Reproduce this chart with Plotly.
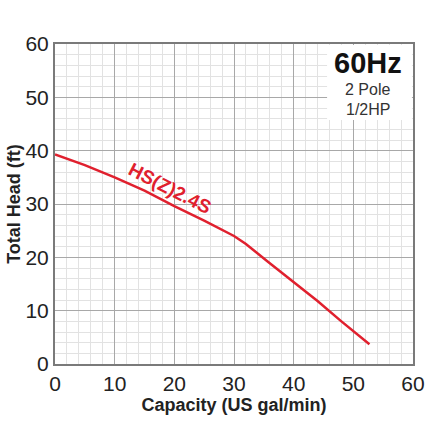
import plotly.graph_objects as go

capacity = [0, 5, 10, 15, 20, 25, 30, 32, 36, 40, 44, 48, 52.7]
head = [39.3, 37.3, 35.0, 32.5, 29.6, 26.9, 24.0, 22.5, 18.9, 15.3, 11.8, 8.0, 3.7]
x_ticks = [0, 10, 20, 30, 40, 50, 60]
y_ticks = [0, 10, 20, 30, 40, 50, 60]
curve_label = "HS(Z)2.4S"
freq_label = "60Hz"
pole_label = "2 Pole"
hp_label = "1/2HP"

RED = "#e0202e"
FONT = "Liberation Sans, Arial, sans-serif"

fig = go.Figure()
fig.add_trace(go.Scatter(x=capacity, y=head, mode="lines",
                         line=dict(color=RED, width=2.5), showlegend=False,
                         hoverinfo="skip"))

axis_common = dict(
    showgrid=True, gridcolor="#a8a8a8", gridwidth=1,
    minor=dict(dtick=2, showgrid=True, gridcolor="#e2e2e2", gridwidth=1),
    showline=True, linecolor="#7a7a7a", linewidth=2, mirror=True,
    zeroline=False, ticks="", automargin=False,
    tickfont=dict(size=21, color="#222", family=FONT),
)

fig.update_xaxes(range=[0, 60], tickvals=x_ticks, ticktext=[str(v) for v in x_ticks],
                 title=dict(text="<b>Capacity (US gal/min)</b>", font=dict(size=18, color="#222", family=FONT), standoff=2),
                 **axis_common)
fig.update_yaxes(range=[0, 60], tickvals=y_ticks, ticktext=[str(v) for v in y_ticks],
                 title=dict(text="<b>Total Head (ft)</b>", font=dict(size=18, color="#222", family=FONT), standoff=0),
                 **axis_common)

# white box behind the title text
fig.add_shape(type="rect", xref="paper", yref="paper", x0=0.76, x1=0.997, y0=0.7625, y1=0.997,
              fillcolor="white", line=dict(width=0), layer="above")

fig.add_annotation(x=0.874, y=0.94, xref="paper", yref="paper", text="<b>" + freq_label + "</b>",
                   xanchor="center", yanchor="middle",
                   showarrow=False, font=dict(size=29, color="#111", family=FONT))
fig.add_annotation(x=0.874, y=0.859, xref="paper", yref="paper", text=pole_label,
                   xanchor="center", yanchor="middle",
                   showarrow=False, font=dict(size=16, color="#333", family=FONT))
fig.add_annotation(x=0.874, y=0.794, xref="paper", yref="paper", text=hp_label,
                   xanchor="center", yanchor="middle",
                   showarrow=False, font=dict(size=16, color="#333", family=FONT))

fig.add_annotation(x=19.3, y=32.9, text="<b>" + curve_label + "</b>", showarrow=False,
                   textangle=27, font=dict(size=19, color=RED, family=FONT))

fig.update_layout(
    width=430, height=430,
    margin=dict(l=55, r=17, t=44, b=66),
    paper_bgcolor="white", plot_bgcolor="white",
    font=dict(family=FONT),
)

fig.write_html("out.html", config={"displayModeBar": False},
               post_script="document.body.style.margin='0';document.body.style.padding='0';")
